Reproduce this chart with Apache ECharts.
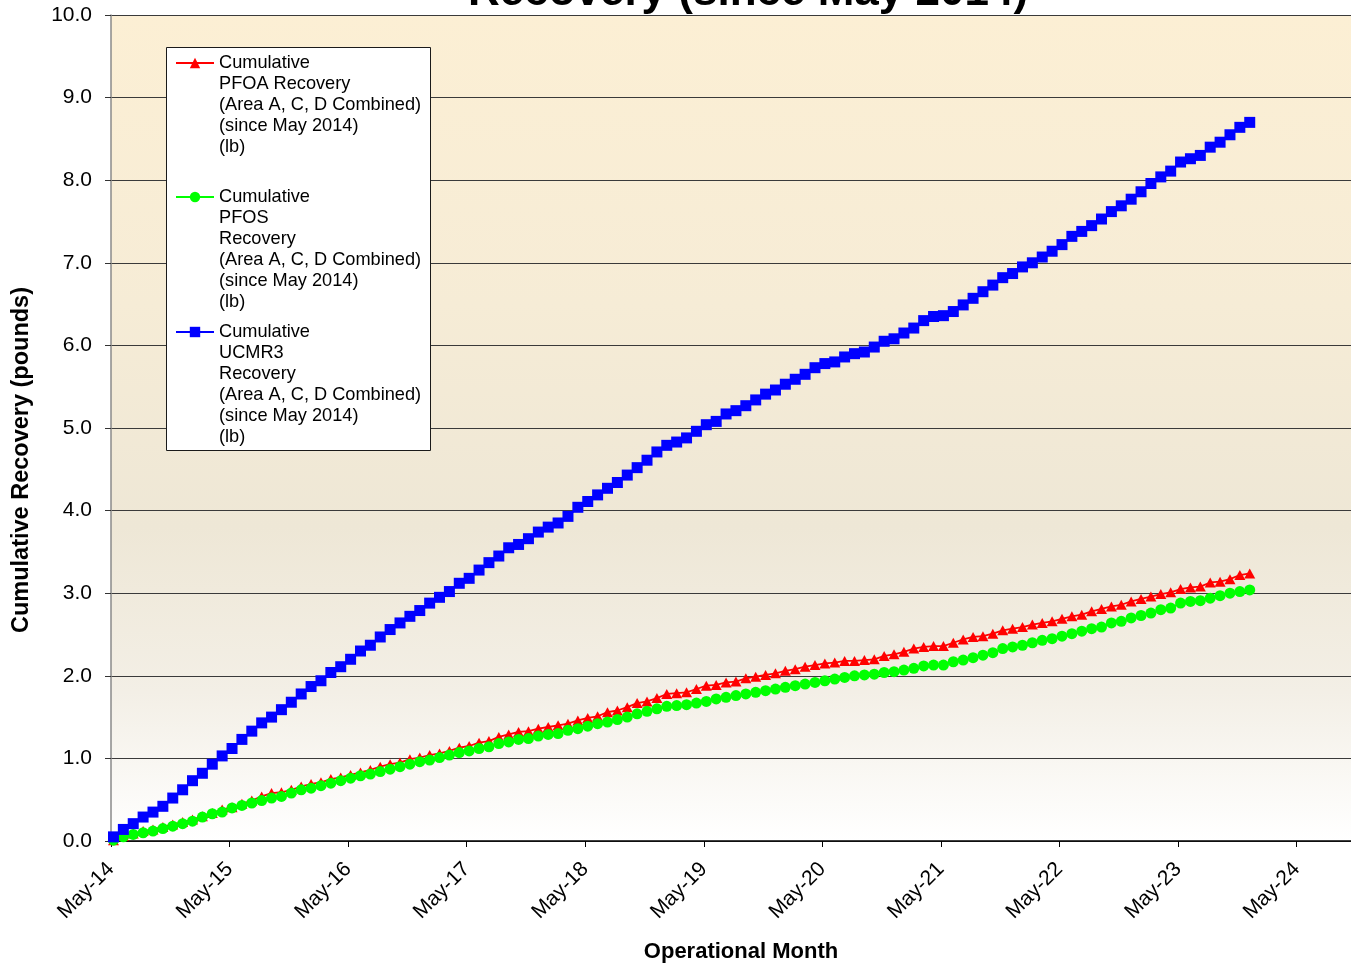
<!DOCTYPE html>
<html>
<head>
<meta charset="utf-8">
<title>Cumulative Recovery (since May 2014)</title>
<script src="https://cdn.jsdelivr.net/npm/echarts@6/dist/echarts.min.js"></script>
<style>
  html, body { margin: 0; padding: 0; background: #ffffff; }
  #chart { width: 1351px; height: 965px; }
</style>
</head>
<body>
<div id="chart"></div>
<script>
const FONT = '"Liberation Sans", Arial, Helvetica, sans-serif';

// Series names as shown in the legend
const seriesNames = [
  'Cumulative\nPFOA Recovery\n(Area A, C, D Combined)\n(since May 2014)\n(lb)',
  'Cumulative\nPFOS\nRecovery\n(Area A, C, D Combined)\n(since May 2014)\n(lb)',
  'Cumulative\nUCMR3\nRecovery\n(Area A, C, D Combined)\n(since May 2014)\n(lb)'
];

// Yearly tick labels on the month axis
const xTickLabels = ['May-14', 'May-15', 'May-16', 'May-17', 'May-18', 'May-19',
                     'May-20', 'May-21', 'May-22', 'May-23', 'May-24'];

// Cumulative PFOA recovery (lb), one reading per month from May 2014
const pfoa = [
  0.01, 0.06, 0.09, 0.12, 0.14, 0.17, 0.20, 0.23, 0.26, 0.30,
  0.34, 0.38, 0.41, 0.45, 0.49, 0.54, 0.58, 0.59, 0.62, 0.66,
  0.69, 0.71, 0.75, 0.77, 0.80, 0.83, 0.86, 0.90, 0.93, 0.95,
  0.99, 1.01, 1.04, 1.06, 1.09, 1.13, 1.15, 1.19, 1.21, 1.26,
  1.29, 1.32, 1.33, 1.36, 1.38, 1.40, 1.42, 1.46, 1.49, 1.51,
  1.56, 1.58, 1.62, 1.67, 1.69, 1.73, 1.78, 1.79, 1.80, 1.84,
  1.88, 1.89, 1.92, 1.93, 1.97, 1.99, 2.01, 2.03, 2.06, 2.08,
  2.11, 2.13, 2.15, 2.16, 2.18, 2.18, 2.19, 2.20, 2.24, 2.26,
  2.29, 2.33, 2.35, 2.36, 2.36, 2.40, 2.44, 2.47, 2.48, 2.51,
  2.55, 2.57, 2.59, 2.62, 2.64, 2.66, 2.69, 2.72, 2.74, 2.78,
  2.81, 2.84, 2.86, 2.90, 2.93, 2.96, 2.99, 3.01, 3.05, 3.07,
  3.08, 3.13, 3.14, 3.17, 3.22, 3.24
];

// Cumulative PFOS recovery (lb)
const pfos = [
  0.01, 0.05, 0.08, 0.10, 0.12, 0.15, 0.18, 0.21, 0.24, 0.29,
  0.33, 0.35, 0.40, 0.43, 0.46, 0.49, 0.52, 0.54, 0.58, 0.62,
  0.64, 0.67, 0.70, 0.73, 0.76, 0.79, 0.81, 0.84, 0.87, 0.90,
  0.93, 0.96, 0.98, 1.01, 1.04, 1.07, 1.09, 1.12, 1.14, 1.18,
  1.20, 1.23, 1.24, 1.27, 1.29, 1.30, 1.34, 1.36, 1.39, 1.42,
  1.44, 1.47, 1.50, 1.54, 1.57, 1.60, 1.63, 1.64, 1.65, 1.67,
  1.69, 1.72, 1.74, 1.76, 1.78, 1.80, 1.82, 1.84, 1.86, 1.88,
  1.90, 1.92, 1.94, 1.96, 1.98, 2.00, 2.01, 2.02, 2.04, 2.05,
  2.07, 2.09, 2.12, 2.13, 2.13, 2.17, 2.19, 2.22, 2.25, 2.28,
  2.33, 2.35, 2.37, 2.40, 2.43, 2.45, 2.48, 2.51, 2.54, 2.57,
  2.59, 2.64, 2.66, 2.70, 2.73, 2.76, 2.80, 2.82, 2.88, 2.90,
  2.91, 2.94, 2.97, 3.00, 3.02, 3.04
];

// Cumulative UCMR3 recovery (lb)
const ucmr3 = [
  0.05, 0.14, 0.21, 0.29, 0.35, 0.42, 0.52, 0.62, 0.73, 0.82,
  0.93, 1.03, 1.12, 1.23, 1.33, 1.43, 1.50, 1.59, 1.68, 1.78,
  1.87, 1.94, 2.04, 2.11, 2.20, 2.30, 2.37, 2.47, 2.56, 2.64,
  2.72, 2.79, 2.88, 2.95, 3.02, 3.12, 3.18, 3.28, 3.37, 3.45,
  3.55, 3.59, 3.66, 3.74, 3.80, 3.85, 3.93, 4.04, 4.11, 4.19,
  4.27, 4.34, 4.43, 4.52, 4.61, 4.71, 4.79, 4.83, 4.88, 4.96,
  5.04, 5.08, 5.17, 5.21, 5.27, 5.34, 5.41, 5.46, 5.53, 5.59,
  5.65, 5.73, 5.78, 5.80, 5.86, 5.90, 5.92, 5.98, 6.05, 6.08,
  6.15, 6.21, 6.30, 6.35, 6.36, 6.41, 6.49, 6.57, 6.65, 6.73,
  6.82, 6.87, 6.95, 7.00, 7.07, 7.14, 7.22, 7.32, 7.38, 7.45,
  7.53, 7.62, 7.69, 7.77, 7.86, 7.96, 8.04, 8.11, 8.22, 8.26,
  8.30, 8.40, 8.46, 8.55, 8.64, 8.70
];

// The x axis counts months since May 2014; readings are logged early in each month.
const READING_OFFSET = 0.25;
const toPoints = arr => arr.map((v, i) => [i + READING_OFFSET, v]);

const chart = echarts.init(document.getElementById('chart'), null, { renderer: 'canvas' });

const GRID = { left: 111, right: 0, top: 15, bottom: 124 };

// Each legend entry is its own block. The key is centred on the text block, so
// blank lines are placed above the name to line the key up with its first line.
const LINE_H = 21;
function legendEntry(name, firstLineY) {
  const lines = name.split('\n').length;
  const blockH = (2 * lines - 1) * LINE_H;
  return {
    data: [name],
    orient: 'vertical',
    left: 175,
    top: firstLineY - blockH / 2,
    padding: 0,
    itemGap: 0,
    itemWidth: 38,
    itemHeight: 13,
    z: 10,
    selectedMode: false,
    formatter: n => '\n'.repeat(lines - 1) + n,
    textStyle: {
      fontFamily: FONT,
      fontSize: 18.2,
      lineHeight: LINE_H,
      color: '#000'
    }
  };
}

const option = {
  animation: false,
  backgroundColor: '#ffffff',
  textStyle: { fontFamily: FONT },
  grid: {
    left: GRID.left, right: GRID.right, top: GRID.top, bottom: GRID.bottom,
    show: true,
    borderWidth: 0,
    backgroundColor: new echarts.graphic.LinearGradient(0, 0, 0, 1, [
      { offset: 0, color: '#fcefd4' },
      { offset: 0.35, color: '#f6ecd6' },
      { offset: 0.62, color: '#eee7d6' },
      { offset: 0.82, color: '#f3efe6' },
      { offset: 1, color: '#ffffff' }
    ])
  },
  xAxis: {
    type: 'value',
    min: 0,
    max: 125.5,
    interval: 12,
    axisLine: { show: true, onZero: false, lineStyle: { color: '#000', width: 1.5 } },
    axisTick: { show: true, inside: false, length: 6, lineStyle: { color: '#000', width: 1 } },
    axisLabel: {
      rotate: 45,
      margin: 25,
      fontSize: 21,
      color: '#000',
      fontFamily: FONT,
      showMaxLabel: false,
      formatter: v => (v % 12 === 0 ? xTickLabels[v / 12] : '')
    },
    splitLine: { show: false }
  },
  yAxis: {
    type: 'value',
    min: 0,
    max: 10,
    interval: 1,
    axisLine: { show: true, lineStyle: { color: '#8a8a8a', width: 1.5 } },
    axisTick: { show: true, inside: false, length: 6, lineStyle: { color: '#333', width: 1 } },
    axisLabel: {
      margin: 19,
      fontSize: 21,
      color: '#000',
      fontFamily: FONT,
      formatter: v => v.toFixed(1)
    },
    splitLine: { show: true, lineStyle: { color: '#3a3a3a', width: 1 } }
  },
  legend: [
    legendEntry(seriesNames[0], 63),
    legendEntry(seriesNames[1], 197),
    legendEntry(seriesNames[2], 332)
  ],
  series: [
    {
      name: seriesNames[0],
      type: 'line',
      data: toPoints(pfoa),
      symbol: 'triangle',
      symbolSize: [11, 10],
      showAllSymbol: true,
      lineStyle: { color: '#ff0000', width: 1.8 },
      itemStyle: { color: '#ff0000' },
      z: 2
    },
    {
      name: seriesNames[1],
      type: 'line',
      data: toPoints(pfos),
      symbol: 'circle',
      symbolSize: 11,
      showAllSymbol: true,
      lineStyle: { color: '#00ff00', width: 1.8 },
      itemStyle: { color: '#00ff00' },
      z: 3
    },
    {
      name: seriesNames[2],
      type: 'line',
      data: toPoints(ucmr3),
      symbol: 'rect',
      symbolSize: 11,
      showAllSymbol: true,
      lineStyle: { color: '#0000ff', width: 1.8 },
      itemStyle: { color: '#0000ff' },
      z: 4
    }
  ],
  graphic: [
    {
      type: 'rect',
      z: 6,
      shape: { x: 166.5, y: 47.5, width: 264, height: 403 },
      style: { fill: '#ffffff', stroke: '#1a1a1a', lineWidth: 1 }
    },
    {
      type: 'text',
      z: 6,
      x: 748,
      y: -7,
      style: {
        text: 'Recovery (since May 2014)',
        fill: '#000',
        font: 'bold 44px ' + FONT,
        textAlign: 'center',
        textVerticalAlign: 'middle'
      }
    },
    {
      type: 'text',
      z: 6,
      x: 22,
      y: 460,
      rotation: Math.PI / 2,
      style: {
        text: 'Cumulative Recovery (pounds)',
        fill: '#000',
        font: 'bold 23.5px ' + FONT,
        textAlign: 'center',
        textVerticalAlign: 'middle'
      }
    },
    {
      type: 'text',
      z: 6,
      x: 741,
      y: 952,
      style: {
        text: 'Operational Month',
        fill: '#000',
        font: 'bold 22px ' + FONT,
        textAlign: 'center',
        textVerticalAlign: 'middle'
      }
    }
  ]
};

chart.setOption(option);
</script>
</body>
</html>
